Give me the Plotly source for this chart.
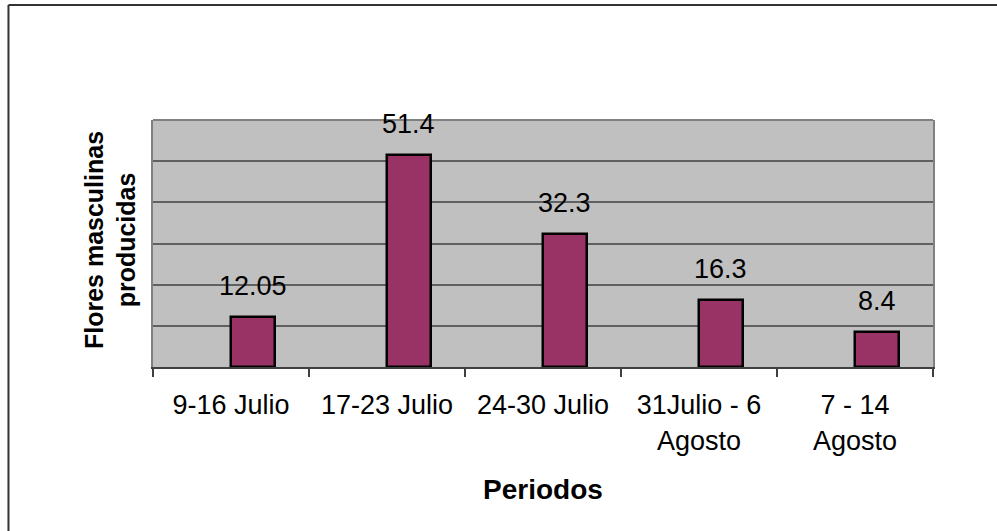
import plotly.graph_objects as go

categories = ["9-16 Julio", "17-23 Julio", "24-30 Julio", "31Julio - 6<br>Agosto", "7 - 14<br>Agosto"]
values = [12.05, 51.4, 32.3, 16.3, 8.4]
value_labels = ["12.05", "51.4", "32.3", "16.3", "8.4"]

FONT = "Arial, Liberation Sans, sans-serif"
BAR_W = 0.28

fig = go.Figure()
fig.add_trace(go.Bar(
    x=categories, y=values,
    offset=0, width=BAR_W,
    marker=dict(color="#993366", line=dict(color="#000000", width=2.5)),
    hoverinfo="skip",
))

for c, v, t in zip(categories, values, value_labels):
    fig.add_annotation(x=c, y=v, text=t, showarrow=False, xanchor="center", yanchor="bottom",
                       xshift=BAR_W * 780 / 5 / 2, yshift=14,
                       font=dict(family=FONT, size=27, color="#000000"))

fig.add_annotation(xref="paper", yref="paper", x=-0.0551, y=0.514,
                   text="<b>Flores masculinas<br>producidas</b>", textangle=-90,
                   showarrow=False, xanchor="center", yanchor="middle",
                   font=dict(family=FONT, size=25, color="#000000"))
fig.add_annotation(xref="paper", yref="paper", x=0.5, y=-0.494,
                   text="<b>Periodos</b>", showarrow=False, xanchor="center", yanchor="middle",
                   font=dict(family=FONT, size=28, color="#000000"))

# outer chart border (left and top edges visible in the frame)
fig.add_shape(type="line", xref="paper", yref="paper", x0=-0.1853, x1=-0.1853, y0=-1.0, y1=1.4656,
              line=dict(color="#333333", width=2), layer="above")
fig.add_shape(type="line", xref="paper", yref="paper", x0=-0.1853, x1=1.2, y0=1.4656, y1=1.4656,
              line=dict(color="#333333", width=2), layer="above")
# top border of plot area
fig.add_shape(type="line", xref="paper", yref="paper", x0=0, x1=1, y0=1, y1=1,
              line=dict(color="#808080", width=2), layer="above")

fig.update_layout(
    width=997, height=531,
    margin=dict(l=153, r=64, t=120, b=164),
    paper_bgcolor="#FFFFFF", plot_bgcolor="#C0C0C0",
    showlegend=False,
    font=dict(family=FONT, size=27, color="#000000"),
    bargap=0,
)
fig.update_xaxes(
    type="category", showline=True, linecolor="#404040", linewidth=2,
    ticks="outside", tickson="boundaries", ticklen=8, tickcolor="#404040", tickwidth=2,
    ticklabelstandoff=13,
    tickfont=dict(family=FONT, size=27, color="#000000"),
    showgrid=False, zeroline=False,
)
fig.update_yaxes(
    range=[0, 60], dtick=10, showticklabels=False, ticks="",
    showgrid=True, gridcolor="#606060", gridwidth=2,
    showline=True, mirror=True, linecolor="#808080", linewidth=2,
    zeroline=False,
)

fig.write_html("out.html", config={"displayModeBar": False},
               post_script="document.body.style.margin='0';document.documentElement.style.overflow='hidden';document.body.style.overflow='hidden';")
